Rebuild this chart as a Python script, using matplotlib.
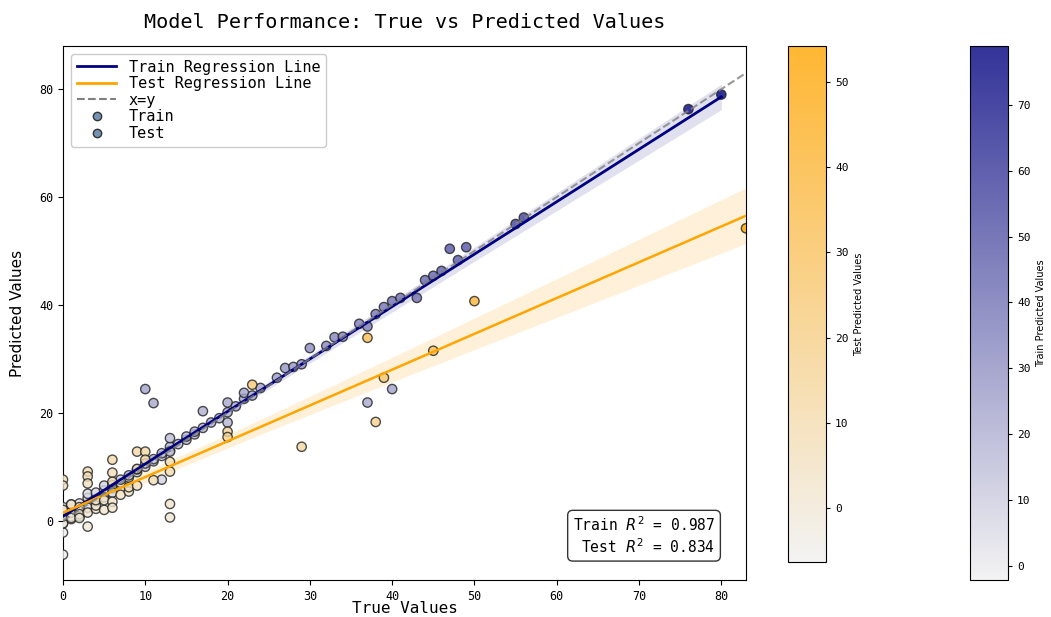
import numpy as np
import matplotlib
matplotlib.use("Agg")
import matplotlib.pyplot as plt
from matplotlib.colors import LinearSegmentedColormap
from matplotlib.lines import Line2D

# train set: true values and predicted values
train_true = [0, 0, 0, 0, 0, 1, 1, 1, 1, 2, 2, 2, 2, 3, 3, 3, 3, 4, 4, 4,
              5, 5, 5, 5, 6, 6, 6, 7, 7, 8, 8, 9, 9, 10, 10, 10, 11, 11, 11,
              12, 12, 12, 13, 13, 13, 13, 14, 15, 15, 16, 16, 17, 17, 18, 19,
              20, 20, 20, 21, 22, 22, 23, 24, 26, 27, 28, 29, 30, 32, 33, 34,
              36, 37, 37, 38, 39, 40, 40, 41, 43, 44, 45, 46, 47, 48, 49, 55,
              56, 76, 80]
train_pred = [0.5, 1.5, -0.5, 2.5, -2.2, 1.2, 0.3, 2.0, 3.0, 2.0, 1.5, 3.2, 0.8,
              3.0, 2.4, 4.2, 5.0, 4.0, 3.5, 5.2, 5.0, 5.6, 4.3, 6.5, 6.0, 6.6,
              5.2, 7.0, 7.6, 8.0, 8.4, 9.0, 9.5, 10.0, 24.4, 10.6, 11.0, 21.8,
              11.4, 12.0, 7.6, 12.5, 13.0, 13.7, 15.3, 12.8, 14.2, 15.0, 15.6,
              16.0, 16.5, 17.2, 20.3, 18.2, 19.0, 18.2, 20.1, 21.9, 21.2, 22.6,
              23.7, 23.2, 24.6, 26.5, 28.3, 28.5, 29.0, 32.0, 32.4, 34.0, 34.1,
              36.5, 36.0, 21.9, 38.3, 39.6, 40.7, 24.4, 41.3, 41.3, 44.6, 45.4,
              46.3, 50.4, 48.3, 50.7, 55.0, 56.2, 76.3, 79.0]

# test set
test_true = [0, 0, 0, 0, 0, 0, 1, 1, 1, 1, 2, 2, 2, 2, 3, 3, 3, 3, 3, 4, 4, 4,
             5, 5, 6, 6, 6, 6, 6, 7, 8, 8, 9, 9, 9, 10, 10, 11, 13, 13, 13, 13,
             20, 20, 23, 29, 37, 38, 39, 45, 50, 83]
test_pred = [7.6, 6.5, -6.3, -0.5, 0.8, 2.0, 0.8, 1.5, 0.5, 3.0, 1.8, 2.5, 1.2,
             0.5, 9.1, 8.2, 6.9, -1.1, 1.5, 2.2, 2.8, 3.8, 2.0, 3.8, 11.3, 8.9,
             7.2, 3.5, 2.4, 4.8, 5.4, 6.2, 12.8, 9.6, 6.5, 12.8, 11.3, 7.5, 10.9,
             9.1, 3.1, 0.6, 16.5, 15.5, 25.2, 13.7, 33.9, 18.3, 26.5, 31.5, 40.7,
             54.2]

r2_train = 0.987
r2_test = 0.834

plt.rcParams['font.family'] = ['DejaVu Sans Mono']
plt.rcParams['axes.unicode_minus'] = False

train_cmap = LinearSegmentedColormap.from_list('train_c', ['#f0f0f0', '#000080'])
test_cmap = LinearSegmentedColormap.from_list('test_c', ['#f0f0f0', '#FFA500'])


def fit_band(x, y, grid):
    x = np.asarray(x, float)
    y = np.asarray(y, float)
    slope, inter = np.polyfit(x, y, 1)
    resid = y - (slope * x + inter)
    n = len(x)
    s = np.sqrt(np.sum(resid ** 2) / (n - 2))
    sxx = np.sum((x - x.mean()) ** 2)
    se = s * np.sqrt(1 / n + (grid - x.mean()) ** 2 / sxx)
    fit = slope * grid + inter
    return fit, fit - 1.97 * se, fit + 1.97 * se


W, H = 1051, 617
fig = plt.figure(figsize=(W / 100, H / 100), dpi=100)
ax = fig.add_axes([63 / W, 37 / H, 683 / W, 534 / H])
cax_test = fig.add_axes([788 / W, 55 / H, 38 / W, 516 / H])
cax_train = fig.add_axes([970 / W, 37 / H, 38 / W, 534 / H])

sc_train = ax.scatter(train_true, train_pred, c=train_pred, cmap=train_cmap,
                      s=45, alpha=0.8, edgecolors='#222222', linewidths=1, zorder=3)
sc_test = ax.scatter(test_true, test_pred, c=test_pred, cmap=test_cmap,
                     s=45, alpha=0.8, edgecolors='#222222', linewidths=1, zorder=3)

# regression lines with confidence bands
gx = np.linspace(min(train_true), max(train_true), 200)
fit, lo, hi = fit_band(train_true, train_pred, gx)
ax.fill_between(gx, lo, hi, color='#000080', alpha=0.12, lw=0, zorder=2)
ax.plot(gx, fit, color='#000080', lw=2, zorder=4)

gx = np.linspace(min(test_true), max(test_true), 200)
fit, lo, hi = fit_band(test_true, test_pred, gx)
ax.fill_between(gx, lo, hi, color='#FFA500', alpha=0.15, lw=0, zorder=2)
ax.plot(gx, fit, color='#FFA500', lw=1.8, zorder=4)

lim = [min(train_true + test_true), max(train_true + test_true)]
ax.plot(lim, lim, color='gray', ls='--', lw=1.5, alpha=0.8, zorder=5)

ax.set_xlim(0, 83)
ax.set_ylim(-11, 88)
ax.set_xticks([0, 10, 20, 30, 40, 50, 60, 70, 80])
ax.set_yticks([0, 20, 40, 60, 80])
ax.tick_params(labelsize=8.5, length=3.5)
ax.set_xlabel('True Values', fontsize=11.5, labelpad=-1)
ax.set_ylabel('Predicted Values', fontsize=11, family='DejaVu Sans', labelpad=10)
ax.set_title('Model Performance: True vs Predicted Values', fontsize=14.5, pad=13)

handles = [Line2D([], [], color='#000080', lw=2),
           Line2D([], [], color='#FFA500', lw=2),
           Line2D([], [], color='gray', ls='--', lw=1.5),
           Line2D([], [], ls='', marker='o', markersize=6, markerfacecolor='#7593b5',
                  markeredgecolor='#333333'),
           Line2D([], [], ls='', marker='o', markersize=6, markerfacecolor='#7593b5',
                  markeredgecolor='#333333')]
labels = ['Train Regression Line', 'Test Regression Line', 'x=y', 'Train', 'Test']
ax.legend(handles, labels, loc='upper left', fontsize=11, labelspacing=0.1,
          handlelength=2.6, borderaxespad=0.5, framealpha=1)

ax.text(0.955, 0.045, f'Train $R^2$ = {r2_train:.3f}\nTest $R^2$ = {r2_test:.3f}',
        transform=ax.transAxes, ha='right', va='bottom', multialignment='right',
        fontsize=10.5,
        bbox=dict(boxstyle='round,pad=0.35', facecolor='white', edgecolor='#333333'))

cb_test = fig.colorbar(sc_test, cax=cax_test)
cb_test.set_label('Test Predicted Values', fontsize=7, family='DejaVu Sans')
cb_test.ax.tick_params(labelsize=8, length=3)
cb_train = fig.colorbar(sc_train, cax=cax_train)
cb_train.set_label('Train Predicted Values', fontsize=7, family='DejaVu Sans')
cb_train.ax.tick_params(labelsize=8, length=3)

fig.savefig('out.png', dpi=100)
